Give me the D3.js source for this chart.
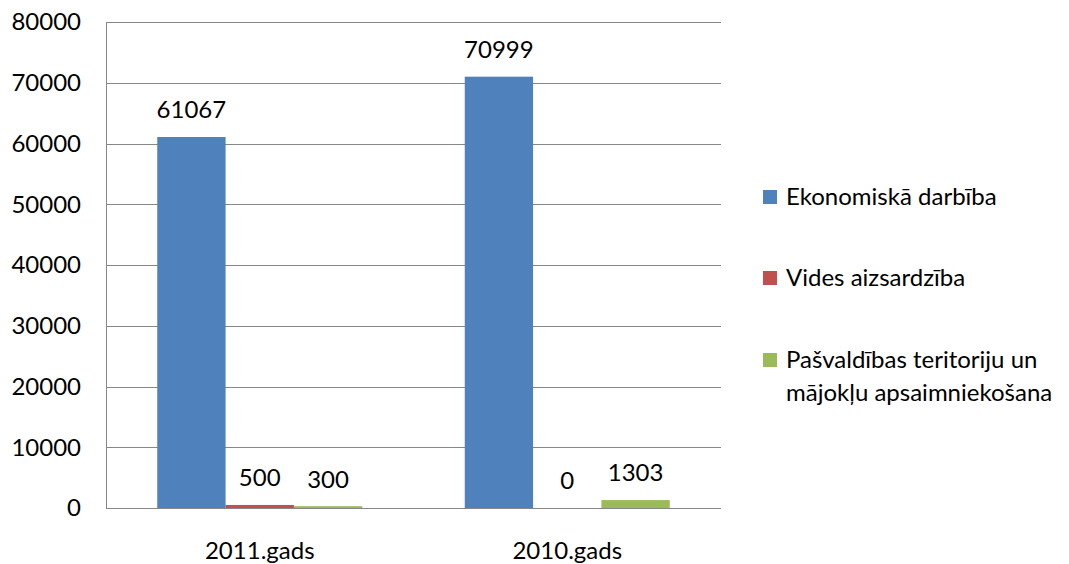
<!DOCTYPE html>
<html><head><meta charset="utf-8">
<script src="https://cdn.jsdelivr.net/npm/d3@7"></script>
<style>
body{margin:0;background:#fff;}
svg{display:block;font-family:Lato,"Open Sans",sans-serif;}
</style></head>
<body><svg id="c" width="1069" height="564"></svg>
<script>
const categories = ["2011.gads", "2010.gads"];
const seriesNames = ["Ekonomiskā darbība", "Vides aizsardzība", "Pašvaldības teritoriju un mājokļu apsaimniekošana"];
const ekonomiska = [61067, 70999];
const vides = [500, 0];
const pasvaldibas = [300, 1303];
const yTicks = [0, 10000, 20000, 30000, 40000, 50000, 60000, 70000, 80000];
const colors = ["#4F81BD", "#C0504D", "#9BBB59"];

const seriesValues = [ekonomiska, vides, pasvaldibas];
const svg = d3.select("#c");
const fs = 24;
const L = 106, R = 721, T = 22, B = 508;

const y = d3.scaleLinear().domain([0, 80000]).range([B, T]);
const x0 = d3.scaleBand().domain(categories).range([L, R]).padding(0);
const bw = x0.bandwidth();
const x1 = d3.scaleBand().domain(d3.range(seriesNames.length)).range([bw/6, bw*5/6]).padding(0);

// gridlines
svg.append("g").selectAll("line").data(yTicks).join("line")
  .attr("x1", L).attr("x2", R)
  .attr("y1", d => Math.round(y(d)) + 0.5).attr("y2", d => Math.round(y(d)) + 0.5)
  .attr("stroke", "#878787").attr("stroke-width", 1);

// y axis line
svg.append("line").attr("x1", L + 0.5).attr("x2", L + 0.5).attr("y1", T).attr("y2", B + 1)
  .attr("stroke", "#878787");

// y tick labels
svg.append("g").selectAll("text").data(yTicks).join("text")
  .attr("x", 81).attr("y", d => y(d)).attr("dy", "0.35em")
  .attr("text-anchor", "end").attr("font-size", fs).attr("fill", "#000")
  .text(d => d);

// bars
const groups = svg.append("g").selectAll("g").data(categories).join("g")
  .attr("transform", c => `translate(${x0(c)},0)`);
groups.each(function(c, ci) {
  const g = d3.select(this);
  seriesValues.forEach((vals, si) => {
    const v = vals[ci];
    g.append("rect")
      .attr("x", x1(si)).attr("width", x1.bandwidth())
      .attr("y", y(v)).attr("height", B - y(v))
      .attr("fill", colors[si]);
    g.append("text")
      .attr("x", x1(si) + x1.bandwidth()/2)
      .attr("y", y(v) - 27).attr("dy", "0.35em")
      .attr("text-anchor", "middle").attr("font-size", fs).attr("fill", "#000")
      .text(v);
  });
});

// x labels
svg.append("g").selectAll("text").data(categories).join("text")
  .attr("x", c => x0(c) + bw/2).attr("y", 551).attr("dy", "0.35em")
  .attr("text-anchor", "middle").attr("font-size", fs).attr("fill", "#000")
  .text(c => c);

// legend
const legY = [197, 278, 360];
const leg = svg.append("g").selectAll("g").data(seriesNames).join("g")
  .attr("transform", (d, i) => `translate(763,${legY[i]})`);
leg.append("rect").attr("x", 0).attr("y", -7).attr("width", 14).attr("height", 14)
  .attr("fill", (d, i) => colors[i]);
leg.each(function(name) {
  const t = d3.select(this).append("text").attr("x", 23).attr("y", 0)
    .attr("font-size", fs).attr("fill", "#000");
  const words = name.split(" ");
  let line = [];
  let tspan = t.append("tspan").attr("x", 23).attr("dy", "0.35em");
  words.forEach(w => {
    line.push(w);
    tspan.text(line.join(" "));
    if (tspan.node().getComputedTextLength() > 282 && line.length > 1) {
      line.pop();
      tspan.text(line.join(" "));
      line = [w];
      tspan = t.append("tspan").attr("x", 23).attr("dy", "1.35em").text(w);
    }
  });
});
</script></body></html>
